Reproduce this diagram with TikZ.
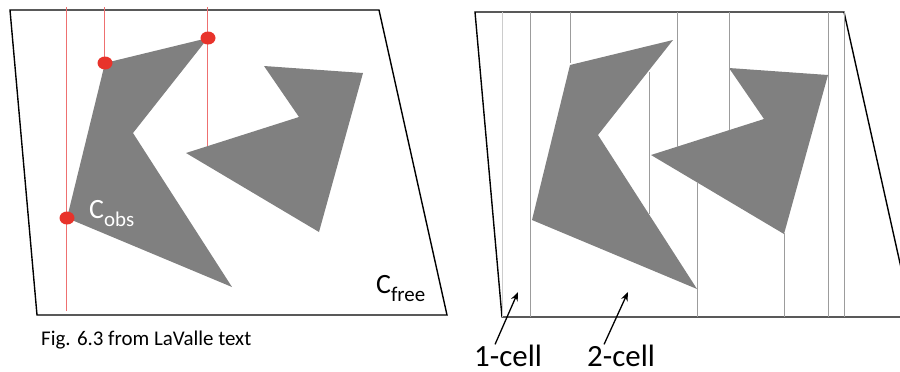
\documentclass[tikz,border=0pt]{standalone}
\usepackage{fontspec}
\setmainfont{Carlito}
\usetikzlibrary{arrows.meta,calc}
\definecolor{lvObs}{HTML}{808080}
\definecolor{lvRed}{HTML}{E8332B}
\definecolor{lvPink}{HTML}{EE7070}
\definecolor{lvCell}{HTML}{9C9C9C}
\definecolor{lvCellLt}{HTML}{CCCCCC}
\newcommand{\lvsub}[1]{{\fontsize{21}{21}\selectfont\raisebox{-8.5pt}{#1}}}
\tikzset{
  frm/.style={draw=black, line width=1.4pt},
  obs/.style={fill=lvObs},
  sweep/.style={draw=lvPink, line width=1.1pt},
  vtx/.style={fill=lvRed},
  cellln/.style={draw=lvCell, line width=0.8pt},
  arr/.style={-{Stealth[length=9pt,width=7pt]}, line width=1.3pt, draw=black},
  cspc/.style={inner sep=0pt, anchor=base west, font=\fontsize{28}{28}\selectfont},
  lbl/.style={inner sep=0pt, anchor=base west, font=\fontsize{31}{31}\selectfont},
  % frame and both obstacles, in pixel units
  lvscene/.pic={
    \coordinate (-tl) at (10,10); \coordinate (-tr) at (379,10);
    \coordinate (-br) at (447,315); \coordinate (-bl) at (37,315);
    \coordinate (-a1) at (105,63); \coordinate (-a2) at (208,38);
    \coordinate (-a3) at (133,133); \coordinate (-a4) at (232,287);
    \coordinate (-a5) at (67,218);
    \coordinate (-b1) at (264,66); \coordinate (-b2) at (363,73);
    \coordinate (-b3) at (319,232); \coordinate (-b4) at (186,153);
    \coordinate (-b5) at (299,117);
    \fill[obs] (-a1) -- (-a2) -- (-a3) -- (-a4) -- (-a5) -- cycle;
    \fill[obs] (-b1) -- (-b2) -- (-b3) -- (-b4) -- (-b5) -- cycle;
    \draw[frm] (-tl) -- (-tr) -- (-br) -- (-bl) -- cycle;
  },
}
\begin{document}
\begin{tikzpicture}[x=1bp, y=-1bp]
  \useasboundingbox (0,0) rectangle (900,371);
  \clip (0,0) rectangle (900,371);

  \pic (L) at (0,0) {lvscene};
  \pic (R) at (465,2) {lvscene};

  % sweep lines and vertices
  \draw[sweep] (66.5,7) -- (66.5,311);
  \draw[sweep] (104.5,7) -- (104.5,63);
  \draw[sweep] (207.5,7) -- (207.5,146);
  \foreach \v in {L-a1,L-a2,L-a5}
    \fill[vtx] (\v) ellipse (7.5 and 6.5);

  \node[cspc, text=white] (cobs) at (89,218) {C\lvsub{obs}};
  \node[cspc] (cfree) at (376,293) {C\lvsub{free}};
  \node[inner sep=0pt, anchor=base west, font=\fontsize{21}{21}\selectfont] (cap) at (41,345) {Fig. 6.3 from LaValle text};

  % vertical cell decomposition
  \draw[draw=lvCellLt, line width=0.8pt] (502.5,12) -- (502.5,317);
  \draw[cellln] (530.5,12) -- (530.5,317);
  \draw[cellln] (570.5,12) -- (570.5,63);
  \draw[cellln] (649.5,72) -- (649.5,214);
  \draw[cellln] (677.5,12) -- (677.5,147);
  \draw[cellln] (697.5,182) -- (697.5,317);
  \draw[cellln] (729.5,12) -- (729.5,130);
  \draw[cellln] (784.5,233) -- (784.5,317);
  \draw[cellln] (828.5,12) -- (828.5,317);
  \draw[cellln] (844.5,12) -- (844.5,317);

  \node[lbl] (one) at (474,366) {1-cell};
  \node[lbl] (two) at (587,366) {2-cell};
  \coordinate (h1) at (518,292);
  \coordinate (h2) at (628,292);
  \draw[arr] ([xshift=-13bp]one.north) -- (h1);
  \draw[arr] ([xshift=-17bp]two.north) -- (h2);
\end{tikzpicture}
\end{document}
